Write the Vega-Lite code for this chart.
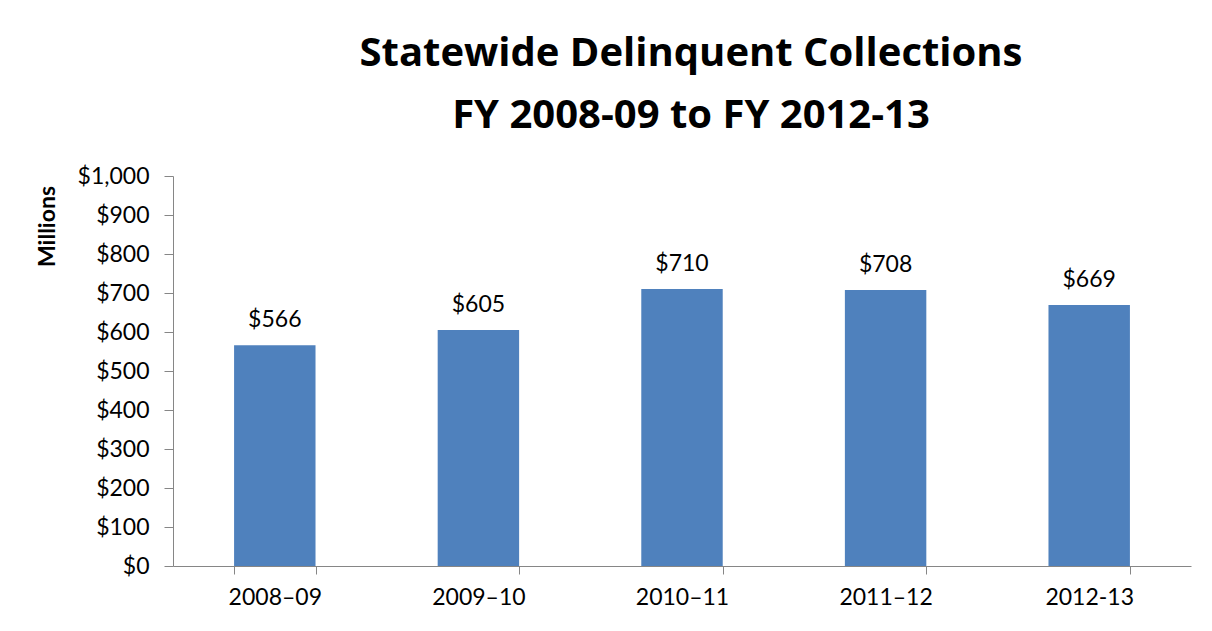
{
  "$schema": "https://vega.github.io/schema/vega-lite/v6.json",
  "autosize": {"type": "none"},
  "padding": {"left": 173, "top": 176, "right": 21, "bottom": 65},
  "width": 1018,
  "height": 390,
  "background": "white",
  "title": {
    "text": ["Statewide Delinquent Collections", "FY 2008-09 to FY 2012-13"],
    "font": "Open Sans",
    "fontWeight": "bold",
    "fontSize": 40,
    "lineHeight": 62,
    "color": "black",
    "anchor": "middle",
    "dx": 9,
    "baseline": "bottom",
    "offset": -11
  },
  "data": {
    "values": [
      {"year": "2008–09", "value": 566},
      {"year": "2009–10", "value": 605},
      {"year": "2010–11", "value": 710},
      {"year": "2011–12", "value": 708},
      {"year": "2012-13", "value": 669}
    ]
  },
  "encoding": {
    "x": {
      "field": "year",
      "type": "nominal",
      "sort": null,
      "title": null,
      "scale": {"paddingInner": 0.6, "paddingOuter": 0.3},
      "axis": {
        "labelAngle": 0,
        "labelFont": "Lato",
        "labelFontSize": 23,
        "labelColor": "black",
        "labelPadding": 12,
        "tickBand": "extent",
        "tickSize": 8,
        "tickColor": "#868686",
        "domainColor": "#868686",
        "grid": false
      }
    },
    "y": {
      "field": "value",
      "type": "quantitative",
      "title": "Millions",
      "scale": {"domain": [0, 1000], "nice": false},
      "axis": {
        "values": [0, 100, 200, 300, 400, 500, 600, 700, 800, 900, 1000],
        "format": "$,.0f",
        "labelFont": "Lato",
        "labelFontSize": 23,
        "labelColor": "black",
        "labelPadding": 15,
        "tickSize": 9,
        "tickColor": "#868686",
        "domainColor": "#868686",
        "grid": false,
        "titleFont": "Lato",
        "titleFontWeight": "bold",
        "titleFontSize": 23,
        "titleColor": "black",
        "titleAnchor": "middle",
        "titleBaseline": "alphabetic",
        "titleX": -119,
        "titleY": 50
      }
    }
  },
  "layer": [
    {"mark": {"type": "bar", "color": "#4F81BD"}},
    {
      "mark": {
        "type": "text",
        "font": "Lato",
        "fontSize": 23,
        "color": "black",
        "baseline": "alphabetic",
        "dy": -18
      },
      "encoding": {
        "text": {"field": "value", "type": "quantitative", "format": "$,.0f"}
      }
    }
  ],
  "config": {"view": {"stroke": null}}
}
